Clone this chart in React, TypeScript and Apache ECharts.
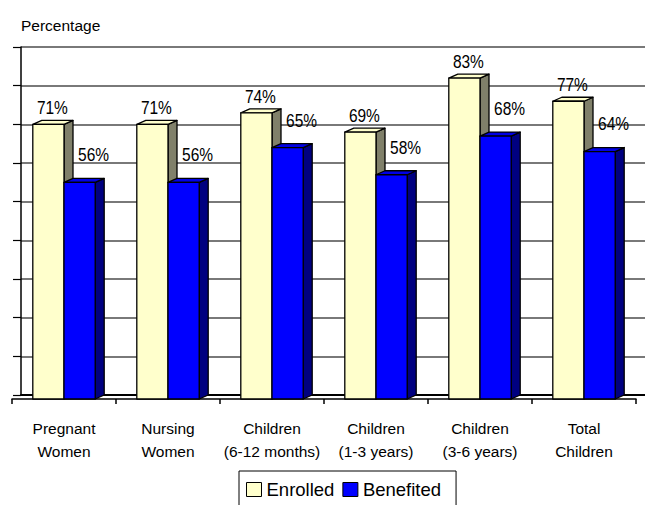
import React, { useEffect, useRef } from "react";
import * as echarts from "echarts";

const categories = [
  "Pregnant\nWomen",
  "Nursing\nWomen",
  "Children\n(6-12 months)",
  "Children\n(1-3 years)",
  "Children\n(3-6 years)",
  "Total\nChildren",
];
const enrolled = [71, 71, 74, 69, 83, 77];
const benefited = [56, 56, 65, 58, 68, 64];
const yMin = 0;
const yMax = 90;
const yInterval = 10;

const SANS = '"Liberation Sans", Arial, sans-serif';

const DX = 9;
const DY = 4;

const palettes = [
  { front: "#FFFFCC", top: "#FFFFCC", side: "#80806A", labelDx: 4, labelDy: -16 },
  { front: "#0000FF", top: "#0000E6", side: "#000080", labelDx: 14, labelDy: -27 },
];

function makeRender(idx: number) {
  return (params: any, api: any) => {
    const c = api.value(0);
    const v = api.value(1);
    const base = api.coord([c, 0]);
    const top = api.coord([c, v]);
    const band = api.size([1, 0])[0];
    const bw = band * 0.3;
    const x0 = base[0] - bw + idx * bw;
    const yT = top[1];
    const yB = base[1];
    const p = palettes[idx];
    const line = { stroke: "#000", lineWidth: 1.3, lineJoin: "round" };
    const lx = x0 + bw / 2 + p.labelDx;
    const ly = yT + p.labelDy;
    return {
      type: "group",
      children: [
        {
          type: "polygon",
          shape: {
            points: [
              [x0 + bw, yT],
              [x0 + bw + DX, yT - DY],
              [x0 + bw + DX, yB - DY],
              [x0 + bw, yB],
            ],
          },
          style: { fill: p.side, ...line },
        },
        {
          type: "polygon",
          shape: {
            points: [
              [x0, yT],
              [x0 + bw, yT],
              [x0 + bw + DX, yT - DY],
              [x0 + DX, yT - DY],
            ],
          },
          style: { fill: p.top, ...line },
        },
        {
          type: "rect",
          shape: { x: x0, y: yT, width: bw, height: yB - yT },
          style: { fill: p.front, ...line },
        },
        {
          type: "text",
          x: lx,
          y: ly,
          scaleY: 1.18,
          style: {
            text: v + "%",
            x: 0,
            y: 0,
            align: "center",
            verticalAlign: "middle",
            fill: "#000",
            font: `15.5px ${SANS}`,
          },
        },
      ],
    };
  };
}

export default function App() {
  const ref = useRef<HTMLDivElement>(null);
  useEffect(() => {
    if (!ref.current) return;
    const chart = echarts.init(ref.current, null, { renderer: "svg" });
    chart.setOption({
      animation: false,
      backgroundColor: "#fff",
      title: {
        text: "Percentage",
        left: 21,
        top: 17,
        padding: 0,
        textStyle: { fontFamily: SANS, fontSize: 15.5, fontWeight: "normal", color: "#000" },
      },
      legend: {
        left: 239,
        top: 471,
        orient: "horizontal",
        itemWidth: 15,
        itemHeight: 14,
        itemGap: 8,
        padding: [9, 15, 20, 7],
        borderColor: "#000",
        borderWidth: 1,
        icon: "rect",
        itemStyle: { borderColor: "#000", borderWidth: 1 },
        textStyle: { fontFamily: SANS, fontSize: 18.5, color: "#000" },
        data: ["Enrolled", "Benefited"],
      },
      grid: [
        { left: 21, right: 0, top: 47, bottom: 110 },
        { left: 12, right: 9, top: 51, bottom: 106 },
      ],
      xAxis: [
        {
          type: "category",
          gridIndex: 0,
          data: categories,
          axisLine: { show: true, lineStyle: { color: "#000", width: 2 } },
          axisTick: { show: false },
          axisLabel: { show: false },
          splitLine: { show: false },
        },
        {
          type: "category",
          gridIndex: 1,
          data: categories,
          axisLine: { show: true, lineStyle: { color: "#000", width: 1.5 } },
          axisTick: { show: true, length: 5, lineStyle: { color: "#000", width: 1.5 } },
          axisLabel: {
            show: true,
            interval: 0,
            margin: 18,
            color: "#000",
            fontFamily: SANS,
            fontSize: 15.5,
            lineHeight: 23,
          },
          splitLine: { show: false },
        },
      ],
      yAxis: [
        {
          type: "value",
          gridIndex: 0,
          min: yMin,
          max: yMax,
          interval: yInterval,
          axisLine: { show: true, lineStyle: { color: "#000", width: 1.5 } },
          axisTick: { show: true, length: 8, lineStyle: { color: "#000", width: 1.2 } },
          axisLabel: { show: false },
          splitLine: { show: true, lineStyle: { color: "#4d4d4d", width: 1.6 } },
        },
        {
          type: "value",
          gridIndex: 1,
          min: yMin,
          max: yMax,
          interval: yInterval,
          show: false,
          splitLine: { show: false },
        },
      ],
      series: [
        {
          name: "Enrolled",
          type: "custom",
          xAxisIndex: 1,
          yAxisIndex: 1,
          itemStyle: { color: "#FFFFCC" },
          renderItem: makeRender(0),
          encode: { x: 0, y: 1 },
          data: enrolled.map((v, i) => [i, v]),
        },
        {
          name: "Benefited",
          type: "custom",
          xAxisIndex: 1,
          yAxisIndex: 1,
          itemStyle: { color: "#0000FF" },
          renderItem: makeRender(1),
          encode: { x: 0, y: 1 },
          data: benefited.map((v, i) => [i, v]),
        },
      ],
    });
    return () => chart.dispose();
  }, []);
  return (
    <div
      ref={ref}
      style={{ position: "fixed", left: 0, top: 0, width: 645, height: 505, background: "#fff" }}
    />
  );
}
